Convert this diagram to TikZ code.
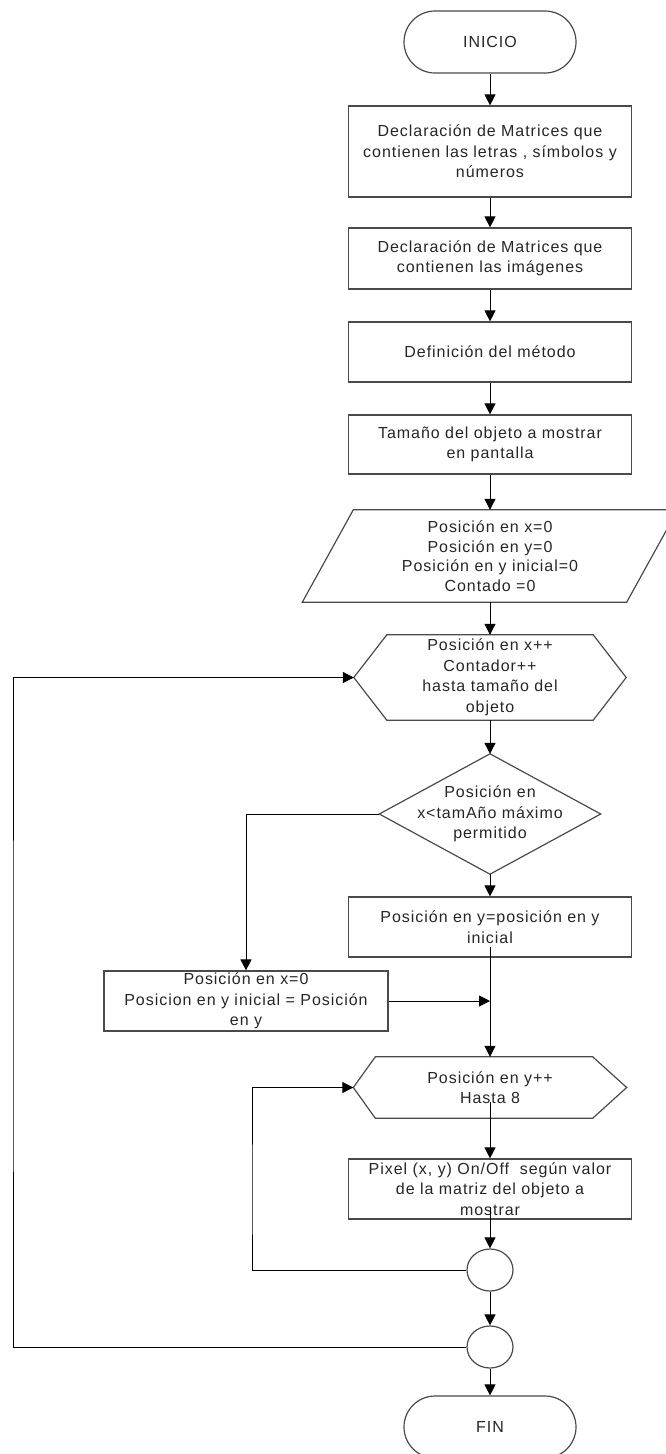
\documentclass[tikz,border=0pt]{standalone}
\usepackage{fontspec}
\setmainfont{Liberation Sans}[LetterSpace=6]
\usetikzlibrary{arrows.meta,shapes.geometric}
\definecolor{ink}{HTML}{262626}
\definecolor{edge}{HTML}{4A4A4A}
\begin{document}
\begin{tikzpicture}[x=1pt,y=-1pt,
  every node/.style={font=\fontsize{16}{20.5}\selectfont, text=ink, align=center, inner sep=0pt},
  shapeline/.style={draw=edge, line width=1.2pt},
  box/.style={shapeline, rectangle, minimum width=283pt, minimum height=#1},
  box/.default=61pt,
  term/.style={shapeline, rectangle, rounded corners=31pt, minimum width=172pt, minimum height=62pt},
  joint/.style={shapeline, ellipse, minimum width=46pt, minimum height=42pt},
  arr/.style={draw=black, line width=1pt, -{Triangle[length=11pt,width=11pt]}}
]
\useasboundingbox (0,0) rectangle (666,1454);

% main column
\node[term] (ini) at (490,42) {INICIO};
\node[box=91pt] (b1) at (490,151.5) {Declaración de Matrices que\\contienen las letras , símbolos y\\números};
\node[box=61pt] (b2) at (490,258.5) {Declaración de Matrices que\\contienen las imágenes};
\node[box=60pt] (b3) at (490,352) {Definición del método};
\node[box=59pt] (b4) at (490,444.5) {Tamaño del objeto a mostrar\\en pantalla};
\node[minimum width=375pt, minimum height=92pt, font=\fontsize{16}{19.5}\selectfont] (pa) at (490,556) {Posición en x=0\\Posición en y=0\\Posición en y inicial=0\\Contado =0};
\node[minimum width=272pt, minimum height=85pt] (h1) at (490,677.5) {Posición en x++\\Contador++\\hasta tamaño del\\objeto};
\node[minimum width=221pt, minimum height=120pt] (d) at (490,814) {Posición en\\x<tamAño máximo\\permitido};
\node[box=60pt] (b7) at (490,927) {Posición en y=posición en y\\inicial};
\node[box=60pt, minimum width=284pt] (lb) at (246,1001) {Posición en x=0\\Posicion en y inicial = Posición\\en y};
\node[minimum width=273pt, minimum height=61pt] (h2) at (490,1087.5) {Posición en y++\\Hasta 8};
\node[box=60pt] (px) at (490,1189) {Pixel (x, y) On/Off \ según valor\\de la matriz del objeto a\\mostrar};
\node[joint] (c1) at (490,1270) {};
\node[joint] (c2) at (490,1347) {};
\node[term] (fin) at (490,1427) {FIN};

% outlines of the data, loop and decision symbols
\draw[shapeline] ([xshift=51pt]pa.north west) -- (pa.north east) -- ([xshift=-51pt]pa.south east) -- (pa.south west) -- cycle;
\draw[shapeline] (h1.west) -- ([xshift=33pt]h1.north west) -- ([xshift=-33pt]h1.north east) -- (h1.east)
  -- ([xshift=-33pt]h1.south east) -- ([xshift=33pt]h1.south west) -- cycle;
\draw[shapeline] (d.north) -- (d.east) -- (d.south) -- (d.west) -- cycle;
\draw[shapeline] (h2.west) -- ([xshift=22pt]h2.north west) -- ([xshift=-34pt]h2.north east) -- (h2.east)
  -- ([xshift=-34pt]h2.south east) -- ([xshift=22pt]h2.south west) -- cycle;

% straight flow
\draw[arr] (ini.south) -- (b1.north);
\draw[arr] (b1.south) -- (b2.north);
\draw[arr] (b2.south) -- (b3.north);
\draw[arr] (b3.south) -- (b4.north);
\draw[arr] (b4.south) -- (pa.north);
\draw[arr] (pa.south) -- (h1.north);
\draw[arr] (h1.south) -- (d.north);
\draw[arr] (d.south) -- (b7.north);
\draw[arr] ([yshift=-20pt]b7.center) -- (h2.north);
\draw[arr] ([yshift=-14pt]h2.center) -- (px.north);
\draw[arr] ([yshift=-18pt]px.center) -- (c1.north);
\draw[arr] (c1.south) -- (c2.north);
\draw[arr] (c2.south) -- (fin.north);

% branch and loops
\draw[arr] (d.west) -| (lb.north);
\draw[arr] (lb.east) -- (lb.east -| h2.north);
\coordinate (r1) at (252,1200);
\draw[arr] (c1.west) -| (r1) |- (h2.west);
\coordinate (r2) at (13,1000);
\draw[arr] (c2.west) -| (r2) |- (h1.west);
\end{tikzpicture}
\end{document}
